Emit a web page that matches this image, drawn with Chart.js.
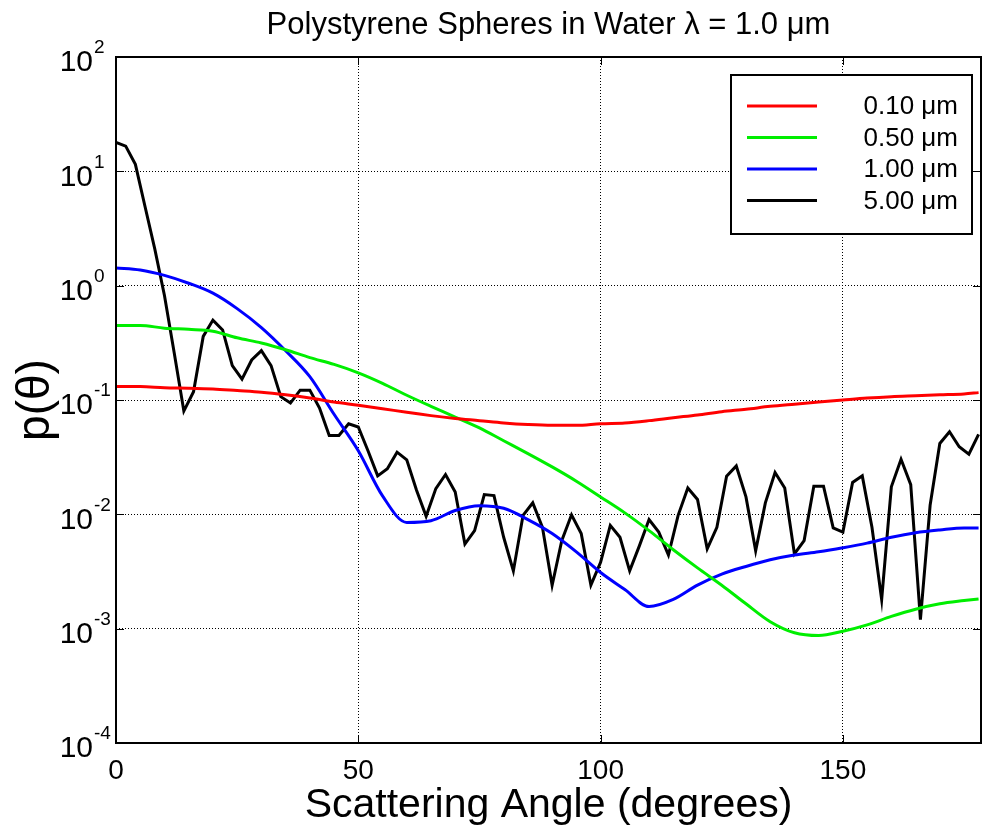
<!DOCTYPE html>
<html>
<head>
<meta charset="utf-8">
<script src="https://cdn.jsdelivr.net/npm/chart.js@4/dist/chart.umd.min.js"></script>
<style>
  html, body { margin: 0; padding: 0; background: #fff; }
  #wrap { width: 982px; height: 829px; }
</style>
</head>
<body>
<div id="wrap"><canvas id="c"></canvas></div>
<script>
// angles for the smooth curves (every 5 deg) and the 5 um curve (every 2 deg)
const anglesSmooth = [0,5,10,15,20,25,30,35,40,45,50,55,60,65,70,75,80,85,90,95,100,105,110,115,120,125,130,135,140,145,150,155,160,165,170,175,178];
const anglesFine = [0,2,4,6,8,10,12,14,16,18,20,22,24,26,28,30,32,34,36,38,40,42,44,46,48,50,52,54,56,58,60,62,64,66,68,70,72,74,76,78,80,82,84,86,88,90,92,94,96,98,100,102,104,106,108,110,112,114,116,118,120,122,124,126,128,130,132,134,136,138,140,142,144,146,148,150,152,154,156,158,160,162,164,166,168,170,172,174,176,178];

const p010 = [0.131,0.131,0.128,0.127,0.125,0.121,0.117,0.111,0.104,0.096,0.090,0.084,0.078,0.073,0.069,0.066,0.063,0.061,0.060,0.060,0.062,0.063,0.066,0.070,0.074,0.079,0.083,0.088,0.092,0.096,0.100,0.104,0.107,0.109,0.111,0.113,0.116];
const p050 = [0.449,0.449,0.425,0.415,0.40,0.35,0.315,0.275,0.235,0.205,0.173,0.14,0.11,0.088,0.071,0.057,0.044,0.034,0.026,0.0195,0.0142,0.0103,0.0072,0.0049,0.0034,0.0024,0.00165,0.00115,0.00092,0.00087,0.00095,0.00108,0.00128,0.00148,0.00165,0.00176,0.00182];
const p100 = [1.43,1.37,1.23,1.05,0.86,0.63,0.43,0.27,0.16,0.075,0.036,0.0145,0.0085,0.0088,0.0108,0.0119,0.0113,0.009,0.0068,0.0047,0.0031,0.0022,0.00156,0.0018,0.0024,0.0030,0.0035,0.0040,0.0044,0.0047,0.0051,0.0056,0.0063,0.0069,0.0073,0.0076,0.0076];
const p500 = [17.9,16.6,11.5,4.9,2.1,0.82,0.26,0.080,0.118,0.36,0.50,0.41,0.20,0.152,0.224,0.27,0.20,0.107,0.094,0.122,0.122,0.085,0.049,0.049,0.062,0.058,0.036,0.0217,0.025,0.035,0.030,0.0163,0.0096,0.0168,0.0223,0.0157,0.0055,0.0072,0.0149,0.0146,0.0063,0.0032,0.0098,0.0126,0.0077,0.0024,0.0059,0.0099,0.0068,0.0024,0.0038,0.0080,0.0063,0.0032,0.0053,0.0090,0.0070,0.0044,0.0098,0.0170,0.0135,0.0050,0.0077,0.0215,0.0265,0.0142,0.0048,0.0126,0.0232,0.0170,0.0045,0.0059,0.0176,0.0176,0.0076,0.0070,0.0190,0.0217,0.0077,0.0018,0.0174,0.0303,0.0182,0.0012,0.0120,0.0417,0.0527,0.039,0.0336,0.050];

const seriesLabels = ['0.10 \u03bcm', '0.50 \u03bcm', '1.00 \u03bcm', '5.00 \u03bcm'];
const xTicks = [0, 50, 100, 150];
const yExponents = [2, 1, 0, -1, -2, -3, -4];
const titleText = 'Polystyrene Spheres in Water \u03bb = 1.0 \u03bcm';
const xTitle = 'Scattering Angle (degrees)';
const yTitle = 'p(\u03b8)';

const pts = (xs, ys) => xs.map((v, i) => ({ x: v, y: ys[i] }));
const FONT = '"Liberation Sans", Arial, sans-serif';

// frame, tick labels, titles and the boxed legend
const decor = {
    id: 'decor',
    afterDraw(chart) {
        const { ctx, chartArea: a, scales: { x, y } } = chart;
        ctx.save();
        ctx.strokeStyle = '#000';
        ctx.lineWidth = 2;
        ctx.strokeRect(a.left, a.top, a.right - a.left, a.bottom - a.top);
        // inward tick marks
        ctx.lineWidth = 1;
        ctx.beginPath();
        yExponents.forEach(e => {
            const py = Math.round(y.getPixelForValue(Math.pow(10, e))) + 0.5;
            ctx.moveTo(a.left, py); ctx.lineTo(a.left + 8, py);
            ctx.moveTo(a.right, py); ctx.lineTo(a.right - 8, py);
        });
        xTicks.forEach(t => {
            const px = Math.round(x.getPixelForValue(t)) + 0.5;
            ctx.moveTo(px, a.bottom); ctx.lineTo(px, a.bottom - 8);
            ctx.moveTo(px, a.top); ctx.lineTo(px, a.top + 8);
        });
        ctx.stroke();

        ctx.fillStyle = '#000';
        ctx.textBaseline = 'middle';
        // y tick labels 10^n
        yExponents.forEach(e => {
            const py = y.getPixelForValue(Math.pow(10, e));
            ctx.font = '30px ' + FONT;
            ctx.textAlign = 'right';
            ctx.fillText('10', a.left - 23, py + 6);
            ctx.font = '19px ' + FONT;
            ctx.textAlign = 'left';
            ctx.fillText(e < 0 ? '-' + (-e) : String(e), a.left - 22, py - 9);
        });
        // x tick labels
        ctx.font = '28px ' + FONT;
        ctx.textAlign = 'center';
        xTicks.forEach(t => ctx.fillText(String(t), x.getPixelForValue(t), a.bottom + 28));
        // titles
        ctx.font = '41px ' + FONT;
        ctx.fillText(xTitle, (a.left + a.right) / 2, a.bottom + 63);
        ctx.font = '31px ' + FONT;
        ctx.fillText(titleText, (a.left + a.right) / 2, 25);
        ctx.save();
        ctx.translate(36, (a.top + a.bottom) / 2);
        ctx.rotate(-Math.PI / 2);
        ctx.font = '46px ' + FONT;
        ctx.fillText(yTitle, 0, 0);
        ctx.restore();

        // legend box
        const bx = 731, by = 75, bw = 241, bh = 159;
        ctx.fillStyle = '#fff';
        ctx.fillRect(bx, by, bw, bh);
        ctx.lineWidth = 2;
        ctx.strokeRect(bx, by, bw, bh);
        ctx.font = '26px ' + FONT;
        ctx.textAlign = 'right';
        chart.data.datasets.forEach((ds, i) => {
            const ry = by + 31 + i * 31.5;
            ctx.strokeStyle = ds.borderColor;
            ctx.lineWidth = 3;
            ctx.beginPath();
            ctx.moveTo(bx + 16, ry); ctx.lineTo(bx + 86, ry);
            ctx.stroke();
            ctx.fillStyle = '#000';
            ctx.fillText(ds.label, bx + bw - 14, ry + 1);
        });
        ctx.restore();
    }
};

new Chart(document.getElementById('c'), {
    type: 'line',
    data: {
        datasets: [
            { label: seriesLabels[0], data: pts(anglesSmooth, p010), borderColor: '#ff0000', cubicInterpolationMode: 'monotone' },
            { label: seriesLabels[1], data: pts(anglesSmooth, p050), borderColor: '#00ee00', cubicInterpolationMode: 'monotone' },
            { label: seriesLabels[2], data: pts(anglesSmooth, p100), borderColor: '#0000ff', cubicInterpolationMode: 'monotone' },
            { label: seriesLabels[3], data: pts(anglesFine, p500), borderColor: '#000000' }
        ]
    },
    options: {
        responsive: true,
        maintainAspectRatio: false,
        animation: false,
        layout: { padding: { left: 116, top: 57, right: 1, bottom: 86 } },
        elements: { point: { radius: 0 }, line: { borderWidth: 3, fill: false, tension: 0 } },
        plugins: { legend: { display: false }, tooltip: { enabled: false } },
        scales: {
            x: {
                type: 'linear', min: 0, max: 178.5,
                afterBuildTicks: s => { s.ticks = xTicks.map(v => ({ value: v })); },
                ticks: { display: false },
                grid: { color: '#000', drawTicks: false, lineWidth: 1 },
                border: { display: false, dash: [1, 2] }
            },
            y: {
                type: 'logarithmic', min: 1e-4, max: 1e2,
                afterBuildTicks: s => { s.ticks = yExponents.map(e => ({ value: Math.pow(10, e) })); },
                ticks: { display: false },
                grid: { color: '#000', drawTicks: false, lineWidth: 1 },
                border: { display: false, dash: [1, 2] }
            }
        }
    },
    plugins: [decor]
});
</script>
</body>
</html>
